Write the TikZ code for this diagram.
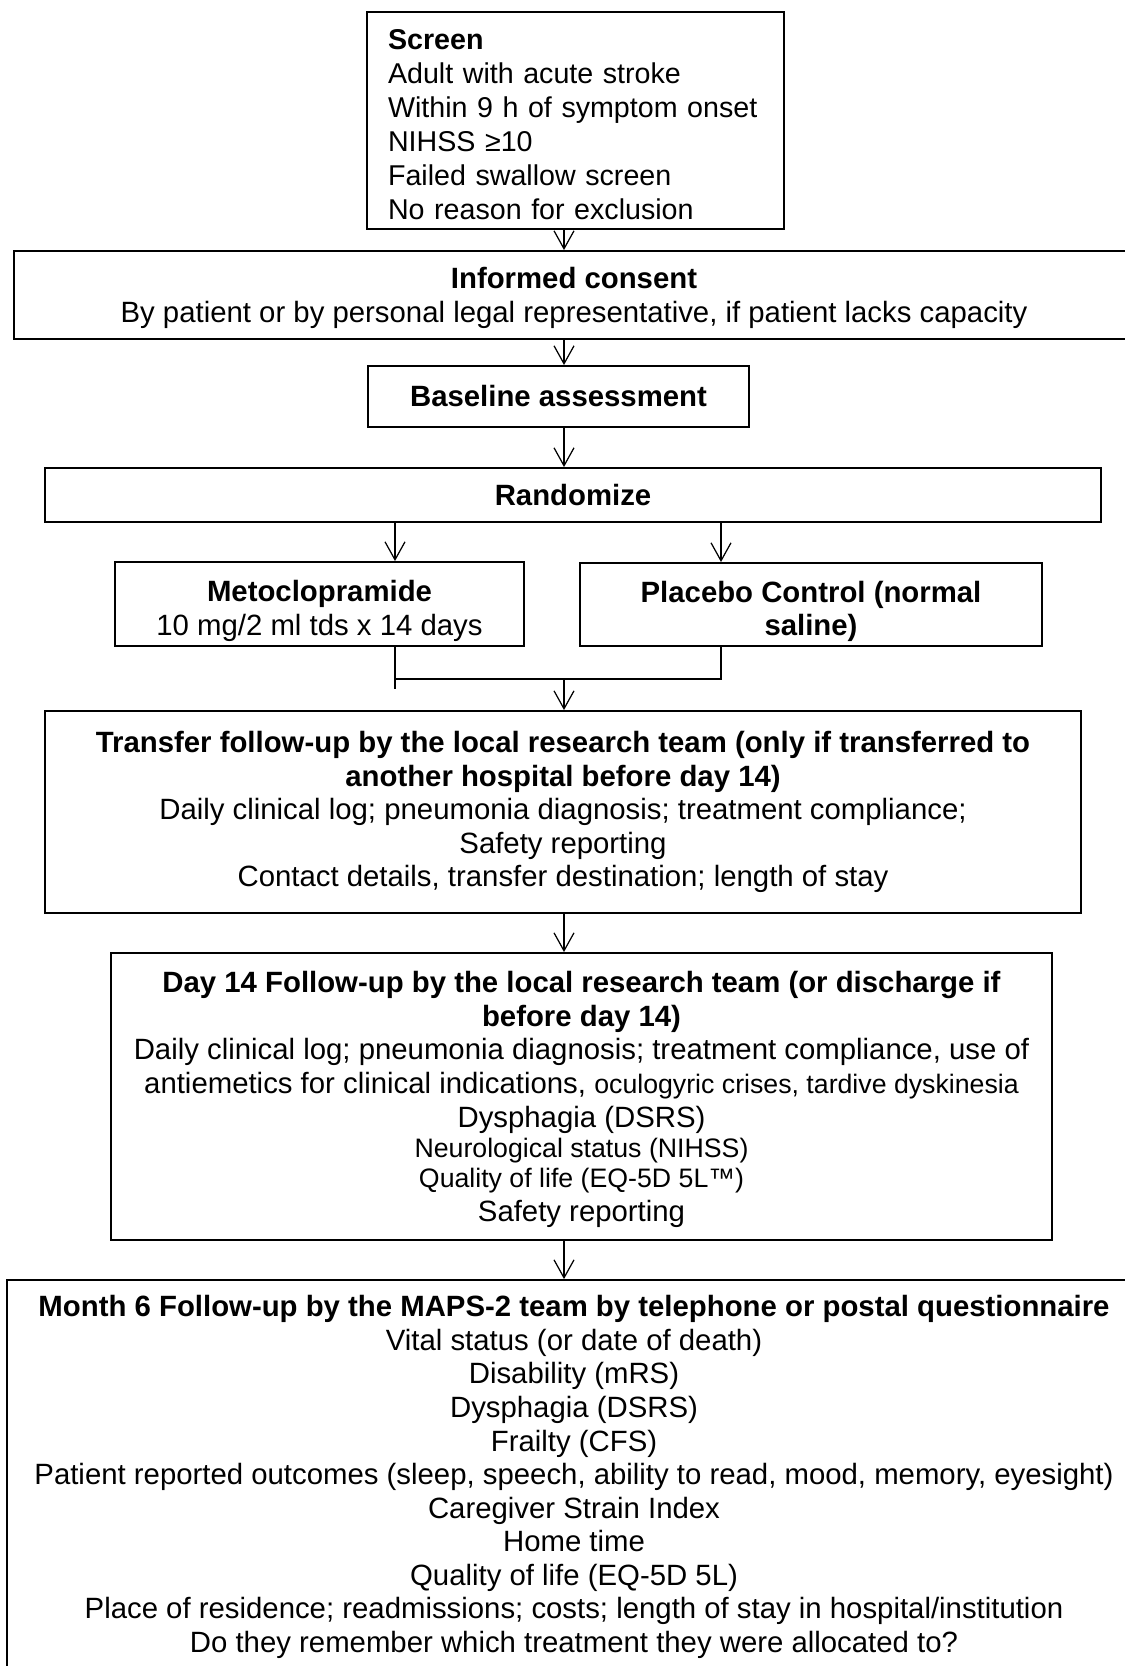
\documentclass[tikz,border=0pt]{standalone}
\usepackage{fontspec}
\setmainfont{Liberation Sans}
\usepackage{tikz}
\usetikzlibrary{arrows.meta}
\newcommand{\smallfs}{\fontsize{15.2}{19.1}\selectfont}

\begin{document}
\begin{tikzpicture}[x=0.02cm, y=-0.02cm,
	box/.style={draw, line width=1.1pt, inner sep=0pt, align=center, font=\fontsize{16.7}{19.1}\selectfont},
	link/.style={line width=0.7pt},
	flow/.style={link, -{Straight Barb[length=0.36cm, width=0.4cm, line width=0.7pt]}}]
	%%%	Help Lines
%	\draw [thin, help lines] (0,0) grid (1125,1666);
	\useasboundingbox (0,0) rectangle (1125,1666);
	\clip (0,0) rectangle (1125,1666);
	%%%	Boxes
	\node[box, font=\fontsize{16.3}{19.3}\selectfont, minimum width=8.34cm, minimum height=4.34cm, align=left, text width=7.5cm, text depth=92pt] (screen) at (575.5,120.5)
		{\textbf{Screen}\\Adult with acute stroke\\Within 9 h of symptom onset\\NIHSS ≥10\\Failed swallow screen\\No reason for exclusion};
	\node[box, minimum width=22.4cm, minimum height=1.76cm, text depth=-1.5pt] (consent) at (574,295)
		{\textbf{Informed consent}\\By patient or by personal legal representative, if patient lacks capacity};
	\node[box, minimum width=7.62cm, minimum height=1.22cm] (baseline) at (558.5,396.5) {\textbf{Baseline assessment}};
	\node[box, minimum width=21.12cm, minimum height=1.08cm] (rand) at (573,495) {\textbf{Randomize}};
	\node[box, minimum width=8.18cm, minimum height=1.68cm, text height=39pt] (meto) at (319.5,604)
		{\textbf{Metoclopramide}\\10 mg/2 ml tds x 14 days};
	\node[box, minimum width=9.24cm, minimum height=1.66cm, text height=39pt] (placebo) at (811,604.5)
		{\textbf{Placebo Control (normal}\\\textbf{saline)}};
	\node[box, minimum width=20.72cm, minimum height=4.04cm] (transfer) at (563,812)
		{\textbf{Transfer follow-up by the local research team (only if transferred to}\\
		 \textbf{another hospital before day 14)}\\
		 Daily clinical log; pneumonia diagnosis; treatment compliance;\\
		 Safety reporting\\
		 Contact details, transfer destination; length of stay};
	\node[box, minimum width=18.82cm, minimum height=5.74cm, text depth=-1pt] (day14) at (581.5,1096.5)
		{\textbf{Day 14 Follow-up by the local research team (or discharge if}\\
		 \textbf{before day 14)}\\
		 Daily clinical log; pneumonia diagnosis; treatment compliance, use of\\
		 antiemetics for clinical indications, {\smallfs oculogyric crises, tardive dyskinesia}\\
		 Dysphagia (DSRS)\\[-1.5pt]
		 {\smallfs Neurological status (NIHSS)}\\[-2pt]
		 {\smallfs Quality of life (EQ-5D 5L™)}\\
		 Safety reporting};
	\node[box, minimum width=22.68cm, minimum height=7.88cm] (month6) at (574,1477)
		{\textbf{Month 6 Follow-up by the MAPS-2 team by telephone or postal questionnaire}\\
		 Vital status (or date of death)\\
		 Disability (mRS)\\
		 Dysphagia (DSRS)\\
		 Frailty (CFS)\\
		 Patient reported outcomes (sleep, speech, ability to read, mood, memory, eyesight)\\
		 Caregiver Strain Index\\
		 Home time\\
		 Quality of life (EQ-5D 5L)\\
		 Place of residence; readmissions; costs; length of stay in hospital/institution\\
		 Do they remember which treatment they were allocated to?};
	%%%	Arrows
	\coordinate (spine) at (564,0);
	\coordinate (leftarm) at (395,0);
	\coordinate (rightarm) at (721,0);
	\coordinate (merge) at (564,679);
	\draw[flow] (screen.south -| spine) -- (consent.north -| spine);
	\draw[flow] (consent.south -| spine) -- (baseline.north -| spine);
	\draw[flow] (baseline.south -| spine) -- (rand.north -| spine);
	\draw[flow] (rand.south -| leftarm) -- (meto.north -| leftarm);
	\draw[flow] (rand.south -| rightarm) -- (placebo.north -| rightarm);
	\draw[link] (meto.south -| leftarm) -- (leftarm |- 0,689);
	\draw[link] (placebo.south -| rightarm) -- (rightarm |- merge) -- (leftarm |- merge);
	\draw[flow] (merge) -- (transfer.north -| merge);
	\draw[flow] (transfer.south -| spine) -- (day14.north -| spine);
	\draw[flow] (day14.south -| spine) -- (month6.north -| spine);
\end{tikzpicture}
\end{document}
